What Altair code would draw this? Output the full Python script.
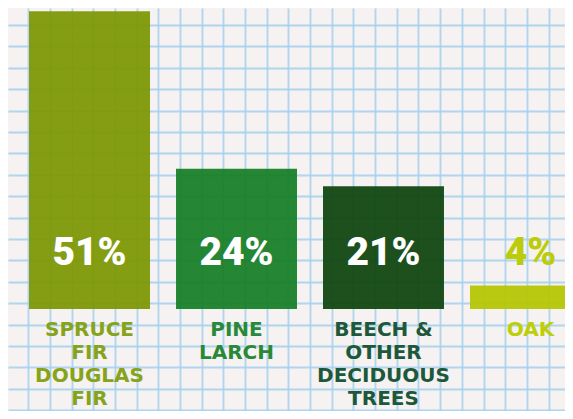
import altair as alt
import pandas as pd

# ---- data ----
categories = ["Spruce / Fir / Douglas Fir", "Pine / Larch", "Beech & other deciduous trees", "Oak"]
labels = ["SPRUCE\nFIR\nDOUGLAS\nFIR", "PINE\nLARCH", "BEECH &\nOTHER\nDECIDUOUS\nTREES", "OAK"]
values = [51, 24, 21, 4]
pct_text = ["51%", "24%", "21%", "4%"]
bar_colors = ["#7c9702", "#147e26", "#0d440d", "#b4c600"]
pct_colors = ["#ffffff", "#ffffff", "#ffffff", "#bccc0a"]
label_colors = ["#86a31a", "#2a8839", "#1d583a", "#bccf08"]

# graph-paper grid tick values (decoration)
grid_x = list(range(1, 26))
grid_y = list(range(0, 19))

df = pd.DataFrame({
    "cat": categories,
    "label": labels,
    "value": values,
    "pct": pct_text,
})

W, H = 557, 403

x_scale = alt.Scale(domain=categories, range=[0, 604], paddingInner=0.177, paddingOuter=0.143)
y_scale = alt.Scale(domain=[-17.47, 51.54], nice=False, zero=False)

grid_axis = dict(grid=True, labels=False, ticks=False, domain=False, title=None,
                 gridColor="#a3d0ee", gridWidth=1.8, gridOpacity=0.85)

grid = alt.Chart(df).mark_point(opacity=0).encode(
    x=alt.X(datum=1, type="quantitative",
            scale=alt.Scale(domain=[0.06, 25.76], nice=False, zero=False),
            axis=alt.Axis(values=grid_x, **grid_axis)),
    y=alt.Y(datum=1, type="quantitative",
            scale=alt.Scale(domain=[-0.04, 18.794], nice=False, zero=False),
            axis=alt.Axis(values=grid_y, **grid_axis)),
)

bars = alt.Chart(df).mark_bar(opacity=0.93, clip=True).encode(
    x=alt.X("cat:N", scale=x_scale, axis=None, sort=categories),
    y=alt.Y("value:Q", scale=y_scale, axis=None),
    y2=alt.datum(0),
    color=alt.Color("cat:N", scale=alt.Scale(domain=categories, range=bar_colors), legend=None),
)

pcts = alt.Chart(df).mark_text(
    font="Roboto", fontWeight=900, fontSize=39, baseline="middle", align="center", dy=-56
).encode(
    x=alt.X("cat:N", scale=x_scale, axis=None, sort=categories),
    y=alt.datum(0),
    text="pct:N",
    color=alt.Color("pct:N", scale=alt.Scale(domain=pct_text, range=pct_colors), legend=None),
)

cat_labels = alt.Chart(df).mark_text(
    font="DejaVu Sans", fontWeight="bold", fontSize=20, baseline="top", align="center",
    dy=11, lineBreak="\n", lineHeight=23
).encode(
    x=alt.X("cat:N", scale=x_scale, axis=None, sort=categories),
    y=alt.datum(0),
    text="label:N",
    color=alt.Color("label:N", scale=alt.Scale(domain=labels, range=label_colors), legend=None),
)

inner = alt.layer(bars, pcts, cat_labels).resolve_scale(color="independent")

chart = alt.layer(grid, inner).resolve_scale(
    x="independent", y="independent"
).properties(
    width=W, height=H, padding=0, background="#f5f2f1",
    autosize=alt.AutoSizeParams(type="none")
).configure_view(stroke=None, fill="#f5f2f1")

chart.save("out.html", embed_options={"renderer": "svg", "actions": False})
